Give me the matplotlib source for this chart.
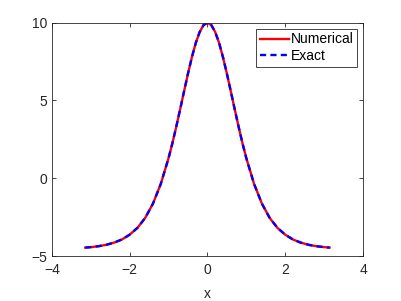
import matplotlib
matplotlib.use('Agg')
import matplotlib.pyplot as plt

# values
x = [-3.14, -3.0, -2.8, -2.6, -2.4, -2.2, -2.0, -1.8, -1.6, -1.4, -1.2,
     -1.0, -0.9, -0.8, -0.7, -0.6, -0.5, -0.4, -0.3, -0.2, -0.1, 0.0,
     0.1, 0.2, 0.3, 0.4, 0.5, 0.6, 0.7, 0.8, 0.9, 1.0,
     1.2, 1.4, 1.6, 1.8, 2.0, 2.2, 2.4, 2.6, 2.8, 3.0, 3.14]
u_numerical = [-4.46, -4.43, -4.37, -4.28, -4.14, -3.94, -3.63, -3.19, -2.55, -1.63, -0.37,
               1.29, 2.26, 3.33, 4.45, 5.60, 6.73, 7.78, 8.70, 9.40, 9.85, 10.0,
               9.85, 9.40, 8.70, 7.78, 6.73, 5.60, 4.45, 3.33, 2.26, 1.29,
               -0.37, -1.63, -2.55, -3.19, -3.63, -3.94, -4.14, -4.28, -4.37, -4.43, -4.46]
u_exact = list(u_numerical)

xticks = [-4, -2, 0, 2, 4]
yticks = [-5, 0, 5, 10]

plt.rcParams['font.family'] = ['Liberation Sans', 'DejaVu Sans']
plt.rcParams['font.size'] = 10

fig = plt.figure(figsize=(4.02, 3.01), dpi=100)
ax = fig.add_axes([0.129, 0.1495, 0.774, 0.775])

ax.plot(x, u_numerical, color='#ff0000', lw=1.7, label='Numerical')
ax.plot(x, u_exact, color='#0000ff', lw=1.7, dashes=(2.6, 1.8), label='Exact')

ax.set_xlim(-4, 4)
ax.set_ylim(-5, 10)
ax.set_xticks(xticks)
ax.set_yticks(yticks)
ax.set_xlabel('x', color='#262626', labelpad=7)

for s in ax.spines.values():
    s.set_color('#262626')
    s.set_linewidth(0.6)
ax.tick_params(direction='in', length=3, width=0.6, colors='#262626',
               top=True, right=True, labelsize=10)
ax.tick_params(axis='x', pad=5)

leg = ax.legend(loc='upper right', fontsize=10, fancybox=False, framealpha=1,
                edgecolor='#262626', borderpad=0.25, handlelength=2.1,
                handletextpad=0.1, labelspacing=0.2, borderaxespad=0.45)
leg.get_frame().set_linewidth(0.6)

fig.savefig('out.png', dpi=100)
